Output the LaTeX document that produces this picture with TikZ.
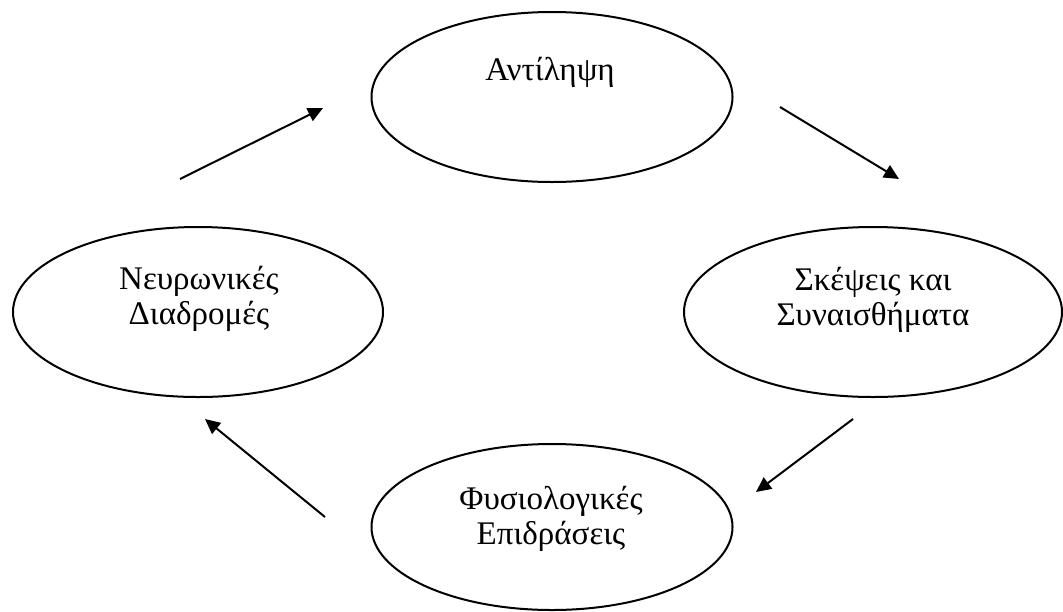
\documentclass[tikz,border=0pt]{standalone}
\usepackage{fontspec}
\setmainfont{Liberation Serif}
\usetikzlibrary{shapes.geometric,arrows.meta}

\tikzset{
  stage/.style={ellipse, draw, line width=1pt, inner sep=0pt, minimum height=85pt},
  caption/.style={align=center, anchor=base, inner sep=0pt,
    font=\fontsize{16.5pt}{17.5pt}\selectfont},
  flow/.style={line width=1pt, -{Triangle[length=7.5pt,width=7pt]}}
}

\begin{document}
\begin{tikzpicture}[x=0.5pt, y=-0.5pt]
  \useasboundingbox (0,0) rectangle (1063,611);

  % the four stages of the cycle
  \node[stage, minimum width=180.5pt] (perc) at (552,97) {};
  \node[stage, minimum width=189pt]   (thought) at (873,312) {};
  \node[stage, minimum width=180.5pt, minimum height=83pt] (phys) at (552,527) {};
  \node[stage, minimum width=185pt]   (neural) at (198,312) {};

  % their texts, set in the upper part of each ellipse
  % (base anchor of a two-line text sits on its last line)
  \node[caption] (percT) at (550,80) {Αντίληψη};
  \node[caption] (thoughtT) at (873,325) {Σκέψεις και\\Συναισθήματα};
  \node[caption] (physT) at (551,544) {Φυσιολογικές\\Επιδράσεις};
  \node[caption] (neuralT) at (199,324) {Νευρωνικές\\Διαδρομές};

  % arrow end points
  \coordinate (a1s) at (180,179);
  \coordinate (a1e) at (323,108);
  \coordinate (a2s) at (780,107);
  \coordinate (a2e) at (899,179);
  \coordinate (a3s) at (853,419);
  \coordinate (a3e) at (756,492);
  \coordinate (a4s) at (325,517);
  \coordinate (a4e) at (205,419);

  \draw[flow] (a1s) -- (a1e);
  \draw[flow] (a2s) -- (a2e);
  \draw[flow] (a3s) -- (a3e);
  \draw[flow] (a4s) -- (a4e);
\end{tikzpicture}
\end{document}
